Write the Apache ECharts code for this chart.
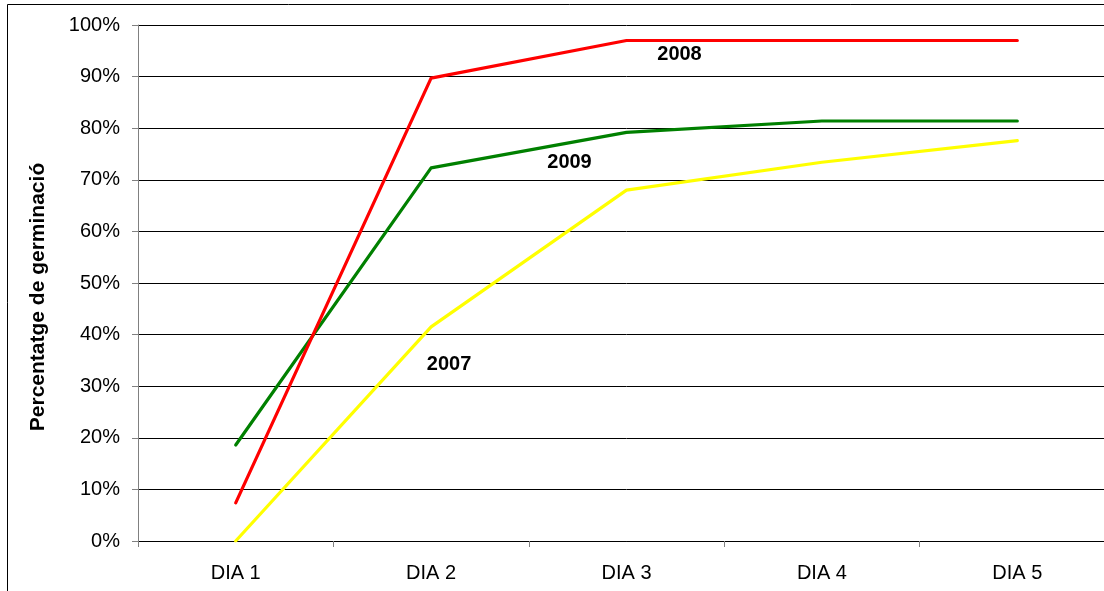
<!DOCTYPE html>
<html>
<head>
<meta charset="utf-8">
<title>Percentatge de germinació</title>
<script src="https://cdn.jsdelivr.net/npm/echarts@6/dist/echarts.min.js"></script>
<style>
  html, body { margin: 0; padding: 0; background: #fff; overflow: hidden; width: 1104px; height: 591px; }
  /* the plot runs on past the right edge of the window, so the drawing surface is wider */
  #chart { width: 1130px; height: 600px; }
</style>
</head>
<body>
<div id="chart"></div>
<script>
// Germination percentage per day, by year
const categories = ['DIA 1', 'DIA 2', 'DIA 3', 'DIA 4', 'DIA 5'];
const years = ['2007', '2008', '2009'];
const values2007 = [0, 41.5, 68.0, 73.4, 77.6];
const values2008 = [7.4, 89.7, 97.0, 97.0, 97.0];
const values2009 = [18.6, 72.3, 79.2, 81.4, 81.4];
const yTicks = { min: 0, max: 100, interval: 10 };

const FONT = '"Liberation Sans", Arial, sans-serif';

// Year tag placed next to a chosen point of its line
function yearTag(name, cat, value, offset) {
  return {
    symbol: 'circle',
    symbolSize: 0,
    silent: true,
    itemStyle: { color: 'rgba(0,0,0,0)' },
    label: {
      show: true,
      position: 'inside',
      formatter: name,
      offset: offset,
      color: '#000',
      fontFamily: FONT,
      fontWeight: 'bold',
      fontSize: 20
    },
    data: [{ coord: [cat, value] }]
  };
}

function lineSeries(name, data, color, tag) {
  return {
    name: name,
    type: 'line',
    data: data,
    showSymbol: false,
    symbol: 'none',
    animation: false,
    lineStyle: { color: color, width: 3.2, cap: 'round', join: 'round' },
    itemStyle: { color: color },
    markPoint: tag
  };
}

const chart = echarts.init(document.getElementById('chart'), null, { renderer: 'canvas' });

chart.setOption({
  animation: false,
  backgroundColor: '#fff',
  grid: { left: 138, top: 25, width: 977, height: 516, containLabel: false },
  xAxis: {
    type: 'category',
    data: categories,
    boundaryGap: true,
    axisLine: { show: true, lineStyle: { color: '#000', width: 1 } },
    axisTick: { show: true, length: 6, lineStyle: { color: '#808080' } },
    axisLabel: { color: '#000', fontFamily: FONT, fontSize: 20, margin: 22 },
    splitLine: { show: false }
  },
  yAxis: {
    type: 'value',
    min: yTicks.min,
    max: yTicks.max,
    interval: yTicks.interval,
    axisLine: { show: true, lineStyle: { color: '#808080', width: 1 } },
    axisTick: { show: true, length: 6, lineStyle: { color: '#808080' } },
    axisLabel: { color: '#000', fontFamily: FONT, fontSize: 20, margin: 18, formatter: '{value}%' },
    splitLine: { show: true, lineStyle: { color: '#000', width: 1 } }
  },
  graphic: [
    {
      type: 'rect',
      shape: { x: 7.5, y: 4.5, width: 2000, height: 2000 },
      style: { fill: 'none', stroke: '#000', lineWidth: 1 },
      silent: true,
      z: 100
    },
    {
      type: 'text',
      x: 38,
      y: 297,
      rotation: Math.PI / 2,
      style: {
        text: 'Percentatge de germinació',
        fill: '#000',
        font: 'bold 21px ' + FONT,
        align: 'center',
        verticalAlign: 'middle'
      },
      silent: true
    }
  ],
  series: [
    lineSeries(years[0], values2007, '#FFFF00', yearTag(years[0], categories[1], values2007[1], [18, 37.5])),
    lineSeries(years[2], values2009, '#008000', yearTag(years[2], categories[2], values2009[2], [-57, 30])),
    lineSeries(years[1], values2008, '#FF0000', yearTag(years[1], categories[2], values2008[2], [53, 14]))
  ]
});
</script>
</body>
</html>
